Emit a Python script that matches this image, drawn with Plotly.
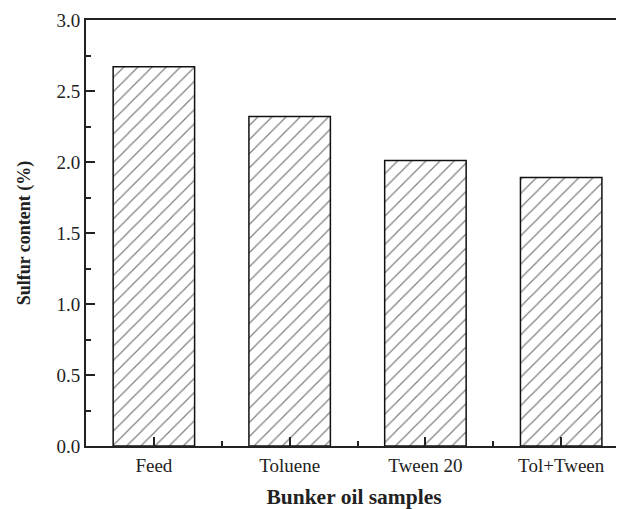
import plotly.graph_objects as go

categories = ["Feed", "Toluene", "Tween 20", "Tol+Tween"]
sulfur = [2.67, 2.32, 2.01, 1.89]
y_ticks = [0.0, 0.5, 1.0, 1.5, 2.0, 2.5, 3.0]

xpos = list(range(len(categories)))

fig = go.Figure(go.Bar(
    x=xpos, y=sulfur, width=0.6,
    marker=dict(color="white",
                line=dict(color="#111", width=1.5),
                pattern=dict(shape="/", fgcolor="#000", bgcolor="white", size=10, solidity=0.12)),
    showlegend=False,
))

font = "Liberation Serif, Times New Roman, serif"
# the page body has an 8px margin, so the figure is shrunk by that amount
fig.update_layout(
    width=616, height=501,
    margin=dict(l=78, r=0, t=12, b=59),
    paper_bgcolor="white", plot_bgcolor="white",
    font=dict(family=font, size=19, color="#222"),
    xaxis=dict(
        range=[-0.5, 3.448], tickmode="array", tickvals=xpos, ticktext=categories,
        ticks="inside", ticklen=9, tickwidth=1.5, tickcolor="#222",
        ticklabelstandoff=1,
        showline=True, linecolor="#222", linewidth=2, mirror=True,
        showgrid=False, zeroline=False,
        minor=dict(tickmode="array", tickvals=[0.5, 1.5, 2.5], ticks="inside", ticklen=5, tickwidth=1.5, tickcolor="#222"),
        title=dict(text="<b>Bunker oil samples</b>", font=dict(size=21.5), standoff=18),
    ),
    yaxis=dict(
        range=[0, 3], tickmode="array", tickvals=y_ticks, ticktext=[f"{v:.1f}" for v in y_ticks],
        ticks="inside", ticklen=9, tickwidth=1.5, tickcolor="#222",
        showline=True, linecolor="#222", linewidth=2, mirror=True,
        showgrid=False, zeroline=False,
        minor=dict(dtick=0.25, ticks="inside", ticklen=5, tickwidth=1.5, tickcolor="#222"),
        title=dict(text="<b>Sulfur content (%)</b>", font=dict(size=18), standoff=21),
    ),
)

fig.write_html("out.html")
